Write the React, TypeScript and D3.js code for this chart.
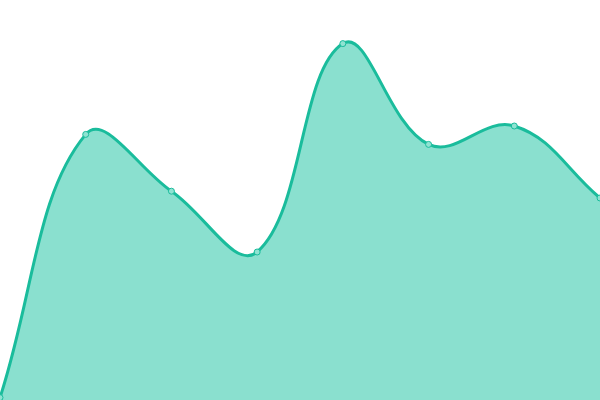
import * as d3 from 'd3';
import React, { useEffect, useRef } from 'react';

const categories = ['A', 'B', 'C', 'D', 'E', 'F', 'G', 'H'];
const values = [0.6, 66.4, 52.2, 37, 89.1, 63.9, 68.5, 50.5];

const TENSION = 0.4;

interface Pt { x: number; y: number; }

// spline control points, tension weighted by neighbour distance
function splinePath(pts: Pt[], w: number, h: number, p: d3.Path) {
    const ctrl = pts.map((cur, i) => {
        const prev = pts[i - 1] || cur;
        const next = pts[i + 1] || cur;
        const d01 = Math.hypot(cur.x - prev.x, cur.y - prev.y);
        const d12 = Math.hypot(next.x - cur.x, next.y - cur.y);
        let s01 = d01 / (d01 + d12);
        let s12 = d12 / (d01 + d12);
        if (isNaN(s01)) s01 = 0;
        if (isNaN(s12)) s12 = 0;
        const fa = TENSION * s01;
        const fb = TENSION * s12;
        const clampX = (v: number) => Math.max(0, Math.min(w, v));
        const clampY = (v: number) => Math.max(0, Math.min(h, v));
        return {
            px: clampX(cur.x - fa * (next.x - prev.x)),
            py: clampY(cur.y - fa * (next.y - prev.y)),
            nx: clampX(cur.x + fb * (next.x - prev.x)),
            ny: clampY(cur.y + fb * (next.y - prev.y)),
        };
    });
    p.moveTo(pts[0].x, pts[0].y);
    for (let i = 1; i < pts.length; i++) {
        p.bezierCurveTo(ctrl[i - 1].nx, ctrl[i - 1].ny, ctrl[i].px, ctrl[i].py, pts[i].x, pts[i].y);
    }
    return p;
}

const App: React.FC = () => {
    const svgRef = useRef<SVGSVGElement | null>(null);

    useEffect(() => {
        const width = 600;
        const height = 400;

        d3.select(svgRef.current).selectAll('*').remove();

        const svg = d3.select(svgRef.current)
            .attr('width', width)
            .attr('height', height);

        const x = d3.scalePoint<string>().domain(categories).range([0, width]);
        const y = d3.scaleLinear().domain([0, 100]).range([height, 0]);

        const pts: Pt[] = categories.map((c, i) => ({ x: x(c)!, y: y(values[i]) }));

        const areaPath = splinePath(pts, width, height, d3.path());
        areaPath.lineTo(width, height);
        areaPath.lineTo(0, height);
        areaPath.closePath();

        svg.append('path')
            .attr('d', areaPath.toString())
            .attr('fill', '#8ae0cf');

        svg.append('path')
            .attr('d', splinePath(pts, width, height, d3.path()).toString())
            .attr('fill', 'none')
            .attr('stroke', '#1abc9c')
            .attr('stroke-width', 3);

        // points
        svg.selectAll('circle')
            .data(pts)
            .enter()
            .append('circle')
            .attr('cx', d => d.x)
            .attr('cy', d => d.y)
            .attr('r', 3)
            .attr('fill', '#8fe3d2')
            .attr('stroke', '#1abc9c')
            .attr('stroke-width', 1);
    }, []);

    return <svg ref={svgRef} style={{ position: 'absolute', left: 0, top: 0 }}></svg>;
};

export default App;
